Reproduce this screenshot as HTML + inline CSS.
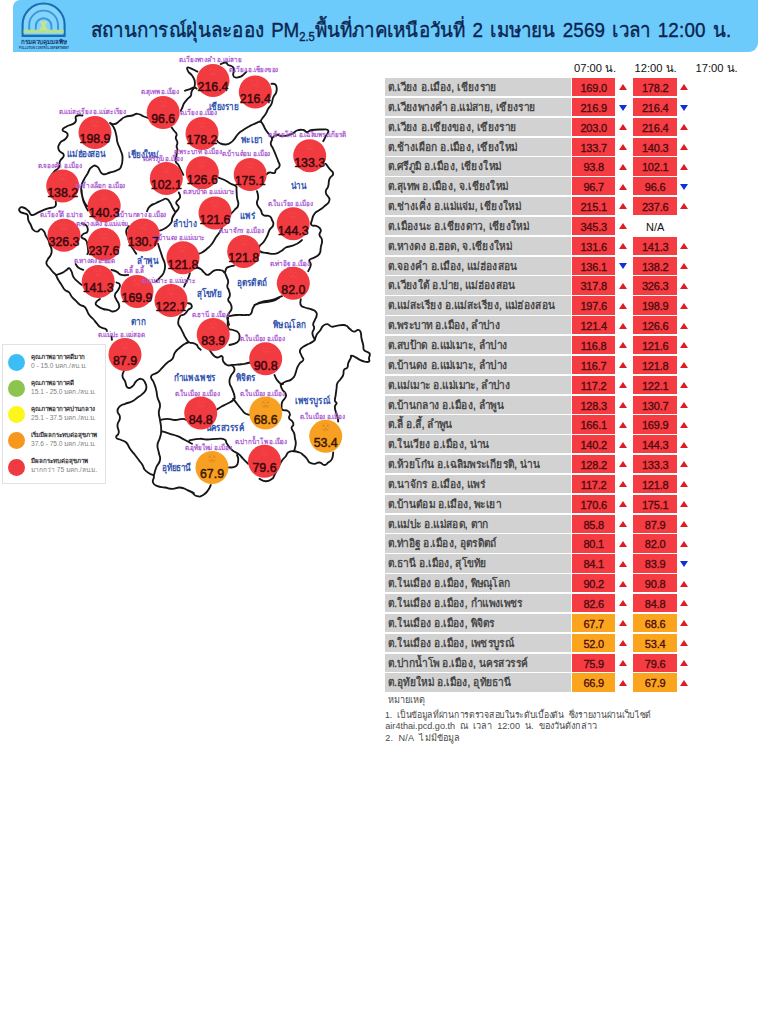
<!DOCTYPE html>
<html lang="th"><head><meta charset="utf-8"><title>PM2.5</title>
<style>
html,body{margin:0;padding:0;background:#fff}
body{width:769px;height:1024px;position:relative;overflow:hidden;font-family:"Liberation Sans",sans-serif;color:#111}
#hdr{position:absolute;left:12.5px;top:0;width:745.5px;height:52.4px;background:#6ccbfa;border-radius:7px 0 9px 0}
#title{position:absolute;left:90.8px;top:16.1px;font-size:20px;line-height:28px;word-spacing:2px;transform:scaleX(.9417);transform-origin:0 50%;color:#0b2350;white-space:nowrap;-webkit-text-stroke:.35px #0b2350;letter-spacing:-.08px}
#title .d{letter-spacing:.2px}
#title sub{font-size:12px;vertical-align:baseline;position:relative;top:3.5px}
#logo{position:absolute;left:18px;top:1.2px}
#map{position:absolute;left:0;top:0}
.sl{font-size:7.2px;fill:#ab5cd2;font-weight:bold}
.sv{font-size:12.4px;fill:#3a060c;stroke:#3a060c;stroke-width:.45px}
.so{fill:#3a1800;stroke:#3a1800}
.pv{font-size:9.8px;fill:#3355b0;font-weight:bold}
#legend{position:absolute;left:2.4px;top:344.3px;width:103.3px;height:140.1px;border:1px solid #e2e2e2;background:#fff;box-sizing:border-box}
.lg{position:absolute;left:4.9px;width:16.9px;height:16.9px;margin-top:.3px;border-radius:50%}
.lt{position:absolute;left:27.6px;font-size:6.6px;line-height:8px;white-space:nowrap;color:#808080;margin-top:-1.9px}
.lt b{color:#333;display:block;font-size:6.15px;line-height:8.9px}
.hd{position:absolute;top:58.7px;font-size:11.2px;white-space:nowrap;color:#111}
.row{position:absolute;left:384.5px;width:320px;height:18.2px}
.nm{position:absolute;left:0;top:0;width:186.2px;height:18.2px;background:#d2d2d2;font-size:11.3px;line-height:19.6px;padding-left:3px;box-sizing:border-box;white-space:nowrap;color:#3a3a3a;-webkit-text-stroke:.3px #3a3a3a}
.nm span{display:inline-block;transform:scaleX(.90);transform-origin:0 50%}
.v{position:absolute;top:0;width:43.6px;height:18.2px;font-size:11px;line-height:21px;text-align:center;color:#4a0a0e;letter-spacing:-.2px;-webkit-text-stroke:.3px #4a0a0e}
.v1{left:187.4px}.v2{left:248.5px;width:44.3px}
.r{background:#f43c42}.o{background:#fba51f}.n{background:transparent;color:#111;-webkit-text-stroke:0;letter-spacing:0}
.t{position:absolute;top:6.4px;width:0;height:0;border-left:4.9px solid transparent;border-right:4.9px solid transparent}
.t.u{border-bottom:6.9px solid #e01b22}
.t.d{border-top:6.9px solid #1030d8;top:6.7px}
.a1{left:234.2px}.a2{left:295.1px}
#notes{position:absolute;left:385.3px;top:694.2px;font-size:9.1px;line-height:13.4px;color:#4a4a4a;white-space:nowrap}
#notes div{position:absolute;left:0;transform-origin:0 50%}
</style></head><body>
<div id="hdr"></div>
<svg id="logo" width="64" height="52" viewBox="0 0 64 52">
<path d="M4.6,35 V23.5 A21,21 0 0 1 46.600,23.500 V35 Z" fill="#84d4fb" stroke="#1b6db3" stroke-width="2.100"/>
<path d="M11.2,29.5 V24 A14.4,14.4 0 0 1 40,24 V29.500" fill="none" stroke="#3a97dc" stroke-width="1.900"/>
<path d="M17.8,29.5 V25 A7.8,7.8 0 0 1 33.400,25 V29.500" fill="none" stroke="#3a97dc" stroke-width="1.900"/>
<rect x="5.6" y="28.7" width="40" height="3.300" fill="#b7e08c"/>
<path d="M21.6,20.3 h8 l-2.400,4 l2.600,4.600 h-8.400 l2.600,-4.600 z" fill="#c4e48f"/>
<rect x="4.6" y="33.6" width="42" height="1.700" fill="#1b6db3"/>
<text x="26" y="43.300" font-size="6.100" font-weight="bold" fill="#16386e" text-anchor="middle">กรมควบคุมมลพิษ</text>
<text x="26" y="47.700" font-size="2.750" font-weight="bold" fill="#16386e" text-anchor="middle">POLLUTION CONTROL DEPARTMENT</text>
</svg>
<div id="title">สถานการณ์ฝุ่นละออง PM<sub>2.5</sub>พื้นที่ภาคเหนือวันที่ <span class="d">2</span> เมษายน <span class="d">2569</span> เวลา <span class="d">12:00</span> น.</div>
<svg id="map" width="385" height="560" viewBox="0 0 385 560" style="font-family:'Liberation Sans',sans-serif">
<path d="M82.5,115.5 C80.8,115.7 78.3,114.3 76.2,116.2 C74.2,118.2 77.6,119.7 75.0,122.5 C72.4,125.3 70.5,124.2 67.0,126.2 C63.5,128.3 62.4,127.9 62.5,130.0 C62.6,132.1 66.7,131.3 67.5,133.8 C68.3,136.2 67.6,136.2 65.5,138.8 C63.4,141.3 61.9,139.8 60.0,143.0 C58.1,146.2 57.7,146.6 58.8,150.0 C59.8,153.4 63.4,151.8 63.8,155.0 C64.1,158.2 61.4,157.8 60.0,161.2 C58.6,164.8 60.5,164.5 58.8,167.5 C57.0,170.5 56.2,169.2 53.8,172.0 C51.3,174.8 51.0,176.0 50.0,177.5 M110.0,123.0 C111.4,123.3 112.2,124.7 115.0,124.0 C117.8,123.3 117.2,122.5 120.0,120.5 C122.8,118.5 121.5,118.4 125.0,117.0 C128.5,115.6 129.0,116.4 132.5,115.5 C136.0,114.6 134.3,113.5 137.5,113.8 C140.7,114.0 140.6,115.3 143.8,116.5 C146.9,117.7 147.3,117.6 148.8,118.0 M110.0,123.0 C111.0,124.3 112.0,124.1 113.8,127.5 C115.5,130.9 115.2,130.8 116.2,135.0 C117.3,139.2 116.3,138.3 117.5,142.5 C118.7,146.7 119.1,145.8 120.5,150.0 C121.9,154.2 122.3,152.9 122.5,157.5 C122.7,162.1 122.7,162.8 121.2,166.2 C119.8,169.8 120.7,168.2 117.5,170.0 C114.3,171.8 114.2,171.4 110.0,172.5 C105.8,173.6 106.1,175.4 102.5,173.8 C98.9,172.1 100.2,168.2 97.0,166.5 C93.8,164.8 93.9,165.5 91.2,167.5 C88.6,169.5 89.6,170.2 87.5,173.8 C85.4,177.2 85.5,176.2 83.8,180.0 C82.0,183.8 81.6,182.6 81.2,187.5 C80.9,192.4 81.5,192.6 82.5,197.5 C83.5,202.4 83.5,201.4 85.0,205.0 C86.5,208.6 87.2,209.0 88.0,210.5 M171.6,127.4 C172.3,128.3 172.7,128.9 174.1,130.7 C175.5,132.6 176.1,132.0 176.6,134.1 C177.1,136.2 175.5,135.9 175.8,138.2 C176.0,140.5 177.2,140.0 177.4,142.4 C177.7,144.7 176.6,144.4 176.6,146.5 C176.6,148.6 177.5,147.1 177.4,149.9 C177.3,152.7 176.7,153.3 176.3,156.5 C175.8,159.8 175.2,159.2 175.8,161.5 C176.3,163.8 176.9,162.5 178.3,164.8 C179.7,167.2 179.4,167.0 180.8,169.8 C182.2,172.6 182.6,173.4 183.3,174.8 M178.8,192.5 C179.1,193.9 180.7,194.7 180.0,197.5 C179.3,200.3 176.6,199.7 176.2,202.5 C175.9,205.3 179.0,204.7 178.8,207.5 C178.5,210.3 177.2,209.7 175.5,212.5 C173.8,215.3 173.8,214.6 172.5,217.5 C171.2,220.4 173.0,220.1 171.0,223.0 C169.0,225.9 168.6,225.9 165.5,228.0 C162.4,230.1 161.5,229.8 160.0,230.5 M147.0,211.2 C147.8,209.8 147.4,208.6 150.0,206.2 C152.6,203.9 152.8,204.8 156.2,203.0 C159.8,201.2 159.6,201.2 162.5,200.0 C165.4,198.8 164.4,198.1 166.5,198.8 C168.6,199.4 168.3,200.1 170.0,202.5 C171.7,204.9 171.0,204.7 172.5,207.5 C174.0,210.3 174.7,211.1 175.5,212.5 M158.0,243.8 C158.6,245.5 158.7,246.2 160.0,250.0 C161.3,253.8 161.1,253.3 162.5,257.5 C163.9,261.7 164.7,260.8 165.0,265.0 C165.3,269.2 165.2,269.0 163.8,272.5 C162.3,276.0 162.1,275.1 160.0,277.5 C157.9,279.9 157.3,280.2 156.2,281.2 M128.8,226.2 C128.1,227.7 126.5,228.1 126.2,231.2 C126.0,234.4 127.0,234.0 128.0,237.5 C129.1,241.0 128.4,240.2 130.0,243.8 C131.6,247.2 132.0,247.2 133.8,250.0 C135.5,252.8 135.6,252.7 136.2,253.8 M55.8,201.7 C55.5,203.0 57.0,204.8 54.9,206.6 C52.8,208.5 52.0,207.1 48.3,208.3 C44.6,209.5 44.9,209.4 41.6,210.8 C38.4,212.2 39.4,212.1 36.6,213.3 C33.8,214.5 34.0,215.7 31.6,215.0 C29.3,214.3 30.6,212.9 28.3,210.8 C26.0,208.7 25.7,208.2 23.3,207.5 C20.9,206.8 20.6,207.1 19.7,208.3 C18.7,209.5 18.7,210.2 20.0,211.6 C21.2,213.0 22.1,212.4 24.1,213.3 C26.2,214.2 26.3,213.1 27.5,215.0 C28.6,216.8 27.4,217.2 28.3,220.0 C29.2,222.8 29.4,222.2 30.8,225.0 C32.2,227.7 31.4,228.1 33.3,229.9 C35.2,231.8 35.4,231.8 37.5,231.6 C39.6,231.4 38.9,229.1 40.8,229.1 C42.7,229.1 42.7,229.7 44.1,231.6 C45.5,233.5 44.6,233.4 45.8,235.8 C47.0,238.1 47.1,237.4 48.3,239.9 C49.4,242.5 49.0,242.1 49.9,244.9 C50.9,247.7 51.4,247.1 51.6,249.9 C51.8,252.7 51.9,252.1 50.8,254.9 C49.6,257.7 48.6,257.3 47.5,259.9 C46.3,262.5 45.9,261.7 46.6,264.1 C47.3,266.4 48.1,265.9 49.9,268.2 C51.8,270.6 51.6,270.5 53.3,272.4 C54.9,274.3 54.4,272.8 55.8,274.9 C57.2,277.0 56.6,277.1 58.3,279.9 C59.9,282.7 59.7,282.1 61.6,284.9 C63.5,287.7 62.8,287.8 64.9,289.9 C67.0,292.0 67.2,290.5 69.1,292.4 C71.0,294.2 69.7,294.2 71.6,296.5 C73.4,298.9 73.4,298.4 75.7,300.7 C78.1,303.0 77.6,303.2 79.9,304.8 C82.2,306.5 82.2,305.1 84.1,306.5 C85.9,307.9 85.2,307.5 86.6,309.8 C88.0,312.2 87.2,312.3 89.1,314.8 C90.9,317.4 91.1,316.7 93.2,319.0 C95.3,321.3 94.5,320.8 96.6,323.2 C98.6,325.5 98.1,325.7 100.7,327.3 C103.3,328.9 104.0,327.9 105.7,329.0 C107.4,330.1 106.5,330.5 106.9,331.1 M55.8,274.9 C57.4,274.4 58.6,274.6 61.6,273.2 C64.6,271.8 64.5,271.3 66.6,269.9 C68.7,268.5 67.7,267.8 69.1,268.2 C70.5,268.7 70.4,269.2 71.6,271.6 C72.7,273.9 71.9,274.0 73.2,276.6 C74.6,279.1 74.2,278.4 76.6,280.7 C78.9,283.0 80.2,283.7 81.6,284.9 M99.9,299.0 C98.7,300.2 96.2,301.1 95.7,303.2 C95.3,305.3 96.1,304.9 98.2,306.5 C100.3,308.1 100.4,308.1 103.2,309.0 C106.0,309.9 105.4,309.1 108.2,309.8 C111.0,310.5 110.4,311.7 113.2,311.5 C116.0,311.3 116.6,310.9 118.2,309.0 C119.8,307.1 119.5,307.4 119.0,304.8 C118.6,302.3 117.7,302.6 116.5,299.9 C115.4,297.1 114.4,297.7 114.9,294.9 C115.3,292.1 116.8,292.7 118.2,289.9 C119.6,287.1 120.3,287.0 119.9,284.9 C119.4,282.8 117.5,283.1 116.5,282.4 M111.5,269.9 C112.9,270.4 113.7,270.2 116.5,271.6 C119.3,273.0 118.3,274.0 121.5,274.9 C124.8,275.8 126.3,274.9 128.2,274.9 M81.6,190.0 C81.8,191.9 81.5,192.9 82.4,196.7 C83.3,200.4 83.3,200.5 84.9,203.3 C86.5,206.1 87.3,205.7 88.2,206.6 M81.6,223.3 C83.0,224.0 84.9,223.5 86.6,225.8 C88.2,228.1 88.3,229.3 87.4,231.6 C86.5,233.9 84.9,232.5 83.2,234.1 C81.6,235.7 80.9,235.8 81.6,237.4 C82.3,239.1 84.1,237.8 85.7,239.9 C87.4,242.0 86.7,241.7 87.4,244.9 C88.1,248.2 88.2,249.0 88.2,251.6 C88.2,254.1 87.6,253.4 87.4,254.1 M75.7,264.1 C76.4,265.0 76.1,265.8 78.2,267.4 C80.3,269.0 81.8,269.2 83.2,269.9 M111.5,336.5 L111.9,339.8 M197.4,71.6 C196.0,70.9 195.2,70.3 192.4,69.1 C189.6,68.0 188.6,66.8 187.4,67.5 C186.3,68.2 187.1,69.5 188.3,71.6 C189.4,73.7 190.0,72.9 191.6,75.0 C193.2,77.1 193.1,76.8 194.1,79.1 C195.0,81.5 194.9,81.0 194.9,83.3 C194.9,85.6 195.0,85.1 194.1,87.5 C193.1,89.8 192.5,89.3 191.6,91.6 C190.7,93.9 191.9,93.7 190.8,95.8 C189.6,97.9 189.3,97.0 187.4,99.1 C185.6,101.2 185.5,100.9 184.1,103.3 C182.7,105.6 183.4,105.3 182.4,107.4 C181.5,109.5 181.2,109.8 180.8,110.8 M196.6,88.6 C195.9,88.3 195.9,87.3 194.1,87.5 C192.2,87.6 192.5,88.2 189.9,89.1 C187.4,90.0 186.3,90.3 184.9,90.8 M220.7,64.1 C222.1,63.7 223.6,62.3 225.7,62.5 C227.8,62.7 226.3,63.8 228.2,65.0 C230.1,66.1 230.7,65.2 232.4,66.6 C234.0,68.0 233.8,67.6 234.0,70.0 C234.3,72.3 232.7,72.9 233.2,75.0 C233.7,77.1 233.6,77.0 235.7,77.5 C237.8,77.9 238.4,77.6 240.7,76.6 C243.0,75.7 242.4,75.5 244.0,74.1 C245.6,72.7 245.8,72.3 246.5,71.6 M271.5,83.8 C272.7,84.1 274.4,82.9 275.8,85.0 C277.1,87.1 277.2,87.8 276.5,91.2 C275.8,94.8 274.6,94.0 273.2,97.5 C271.9,101.0 272.9,100.6 271.5,103.8 C270.1,106.9 269.9,106.0 268.2,108.8 C266.6,111.5 267.5,111.0 265.8,113.8 C264.0,116.5 263.4,116.7 262.0,118.8 C260.6,120.8 261.1,120.5 260.8,121.2 M260.8,121.2 C259.0,122.0 257.6,122.3 254.5,123.8 C251.3,125.2 252.7,124.5 249.5,126.2 C246.3,128.0 246.4,127.9 243.2,130.0 C240.1,132.1 240.7,131.3 238.2,133.8 C235.8,136.2 236.6,136.3 234.5,138.8 C232.4,141.2 233.2,140.9 230.8,142.5 C228.3,144.1 228.9,144.4 225.8,144.5 C222.6,144.6 221.9,144.1 219.5,143.0 C217.1,141.9 217.7,141.2 217.0,140.5 M260.8,121.2 C261.4,122.3 261.9,122.5 263.2,125.0 C264.6,127.5 264.0,127.2 265.8,130.0 C267.5,132.8 267.8,132.6 269.5,135.0 C271.2,137.4 271.6,136.3 272.0,138.8 C272.4,141.2 270.4,140.9 270.8,143.8 C271.1,146.6 271.9,145.6 273.2,148.8 C274.6,151.9 274.4,151.5 275.8,155.0 C277.1,158.5 277.2,158.1 278.2,161.2 C279.3,164.4 280.2,163.8 279.5,166.2 C278.8,168.7 277.1,168.1 275.8,170.0 C274.4,171.9 276.2,172.3 274.5,173.0 C272.8,173.7 271.7,172.1 269.5,172.5 C267.3,172.9 267.3,173.9 266.5,174.5 M272.0,138.0 C273.4,137.2 273.9,135.5 277.0,135.0 C280.1,134.5 279.1,136.6 283.2,136.2 C287.4,135.9 288.1,135.4 292.0,133.8 C295.9,132.1 293.9,131.6 297.0,130.5 C300.1,129.4 300.4,129.6 303.2,130.0 C306.1,130.4 304.6,132.0 307.0,132.0 C309.4,132.0 307.8,130.7 312.0,130.0 C316.2,129.3 317.4,129.4 322.0,129.5 C326.6,129.6 327.2,128.6 328.2,130.5 C329.3,132.4 327.1,133.2 325.8,136.2 C324.4,139.3 323.9,139.8 323.2,141.2 M325.8,163.8 C326.8,165.2 327.4,165.9 329.5,168.8 C331.6,171.6 333.2,170.9 333.2,173.8 C333.2,176.6 330.9,175.2 329.5,178.8 C328.1,182.2 329.3,182.4 328.2,186.2 C327.2,190.1 325.4,188.7 325.8,192.5 C326.1,196.3 329.9,196.2 329.5,200.0 C329.1,203.8 327.3,203.4 324.5,206.2 C321.7,209.1 322.3,207.9 319.5,210.0 C316.7,212.1 316.6,210.9 314.5,213.8 C312.4,216.6 312.8,216.8 312.0,220.0 C311.2,223.2 310.1,223.2 311.5,225.0 C312.9,226.8 314.4,224.8 317.0,226.2 C319.6,227.7 320.1,227.6 320.8,230.0 C321.4,232.4 319.1,232.2 319.5,235.0 C319.9,237.8 321.6,236.5 322.0,240.0 C322.4,243.5 321.4,243.7 320.8,247.5 C320.1,251.3 321.2,250.9 319.5,253.8 C317.8,256.6 317.3,255.8 314.5,257.5 C311.7,259.2 310.6,257.9 309.5,260.0 C308.4,262.1 311.1,261.9 310.8,265.0 C310.4,268.1 308.9,269.5 308.2,271.2 M257.0,191.2 C257.4,193.0 258.2,194.0 258.2,197.5 C258.2,201.0 256.3,200.2 257.0,203.8 C257.7,207.2 259.0,206.8 260.8,210.0 C262.5,213.2 260.8,213.2 263.2,215.0 C265.7,216.8 267.1,214.8 269.5,216.2 C271.9,217.7 270.9,217.6 272.0,220.0 C273.1,222.4 273.9,222.2 273.2,225.0 C272.6,227.8 271.2,226.8 269.5,230.0 C267.8,233.2 268.8,232.8 267.0,236.2 C265.2,239.8 265.4,239.7 263.2,242.5 C261.1,245.3 260.4,243.8 259.5,246.2 C258.6,248.7 257.9,249.4 260.0,251.2 C262.1,253.1 262.9,252.3 267.0,253.0 C271.1,253.7 270.6,254.2 274.5,253.8 C278.4,253.3 277.6,253.0 280.8,251.2 C283.9,249.5 282.9,248.9 285.8,247.5 C288.6,246.1 287.6,247.3 290.8,246.2 C293.9,245.2 293.9,245.5 297.0,243.8 C300.1,242.0 300.6,241.1 302.0,240.0 M218.2,177.5 C220.0,178.2 221.0,178.2 224.5,180.0 C228.0,181.8 227.6,182.0 230.8,183.8 C233.9,185.5 234.1,184.5 235.8,186.2 C237.4,188.0 236.2,186.8 236.5,190.0 C236.8,193.2 236.5,193.3 237.0,197.5 C237.5,201.7 238.9,201.5 238.2,205.0 C237.6,208.5 236.6,207.6 234.5,210.0 C232.4,212.4 231.8,212.7 230.8,213.8 M222.0,227.5 C221.3,228.9 221.2,229.7 219.5,232.5 C217.8,235.3 217.8,234.3 215.8,237.5 C213.7,240.7 214.4,240.6 212.0,243.8 C209.6,246.9 209.8,246.3 207.0,248.8 C204.2,251.2 204.4,251.1 202.0,252.5 C199.6,253.9 199.3,253.4 198.2,253.8 M254.5,305.0 C256.6,304.3 257.1,303.6 262.0,302.5 C266.9,301.4 267.1,302.6 272.0,301.2 C276.9,299.9 277.4,298.6 279.5,297.5 M196.6,267.4 C197.7,267.9 198.6,267.7 200.7,269.1 C202.8,270.5 202.2,270.8 204.0,272.4 C205.9,274.0 205.5,274.7 207.4,274.9 C209.2,275.1 208.8,274.4 210.7,273.2 C212.6,272.1 211.9,271.7 214.0,270.7 C216.1,269.8 215.9,269.9 218.2,269.9 C220.5,269.9 220.5,270.0 222.4,270.7 C224.2,271.4 223.7,273.1 224.8,272.4 C226.0,271.7 225.1,269.9 226.5,268.2 C227.9,266.6 227.7,267.3 229.8,266.6 C231.9,265.9 232.8,266.0 234.0,265.7 M224.8,272.4 C225.3,273.6 225.6,274.0 226.5,276.6 C227.4,279.1 227.9,278.8 228.2,281.6 C228.4,284.4 227.1,284.0 227.3,286.6 C227.6,289.1 228.3,288.1 229.0,290.7 C229.7,293.3 230.1,293.1 229.8,295.7 C229.6,298.3 227.9,297.5 228.2,299.9 C228.4,302.2 229.7,301.5 230.7,304.0 C231.6,306.6 232.0,306.5 231.5,309.0 C231.0,311.6 230.2,310.9 229.0,313.2 C227.8,315.5 227.6,315.0 227.3,317.3 C227.1,319.7 227.7,319.4 228.2,321.5 C228.6,323.6 228.8,323.9 229.0,324.8 M189.9,273.2 C189.4,274.6 189.4,275.4 188.2,278.2 C187.1,281.0 186.9,280.9 185.7,283.2 C184.6,285.6 184.5,285.6 184.1,286.6 M187.4,303.2 C188.3,303.4 189.6,302.9 190.7,304.0 C191.9,305.2 192.3,305.7 191.6,307.4 C190.9,309.0 189.9,308.2 188.2,309.9 C186.6,311.5 187.1,311.8 185.7,313.2 C184.3,314.6 184.9,313.9 183.2,314.8 C181.6,315.8 181.3,314.2 179.9,316.5 C178.5,318.8 178.0,319.9 178.2,323.2 C178.5,326.4 179.3,325.4 180.7,328.2 C182.1,331.0 181.8,330.4 183.2,333.2 C184.6,336.0 184.1,335.6 185.7,338.1 C187.4,340.7 187.0,340.9 189.1,342.3 C191.2,343.7 191.1,342.4 193.2,343.1 C195.3,343.8 195.2,343.6 196.6,344.8 C197.9,346.0 197.1,345.9 198.2,347.3 C199.4,348.7 200.0,349.1 200.7,349.8 M123.8,371.2 C123.4,372.6 122.2,373.4 122.5,376.2 C122.8,379.1 123.6,378.1 125.0,381.2 C126.4,384.4 125.4,386.1 127.5,387.5 C129.6,388.9 130.1,388.0 132.5,386.2 C134.9,384.5 133.8,383.4 136.2,381.2 C138.7,379.1 138.8,378.4 141.2,378.8 C143.7,379.1 143.6,379.7 145.0,382.5 C146.4,385.3 146.9,385.6 146.2,388.8 C145.6,391.9 144.9,391.3 142.5,393.8 C140.1,396.2 140.3,395.4 137.5,397.5 C134.7,399.6 136.0,399.5 132.5,401.2 C129.0,403.0 128.5,402.4 125.0,403.8 C121.5,405.1 122.1,404.1 120.0,406.2 C117.9,408.4 117.5,408.1 117.5,411.2 C117.5,414.4 120.0,413.6 120.0,417.5 C120.0,421.4 117.8,420.8 117.5,425.0 C117.2,429.2 119.1,429.0 118.8,432.5 C118.4,436.0 115.5,435.4 116.2,437.5 C117.0,439.6 118.5,438.6 121.2,440.0 C124.0,441.4 123.8,440.1 126.2,442.5 C128.7,444.9 127.5,445.2 130.0,448.8 C132.4,452.2 132.6,451.9 135.0,455.0 C137.4,458.1 136.7,457.2 138.8,460.0 C140.8,462.8 140.8,462.2 142.5,465.0 C144.2,467.8 142.9,467.6 145.0,470.0 C147.1,472.4 147.6,472.0 150.0,473.8 C152.4,475.5 152.9,473.8 153.8,476.2 C154.6,478.7 151.9,479.7 153.0,482.5 C154.1,485.3 154.1,484.9 157.5,486.2 C160.9,487.6 160.8,486.8 165.0,487.5 C169.2,488.2 168.3,488.8 172.5,488.8 C176.7,488.8 175.8,487.1 180.0,487.5 C184.2,487.9 183.7,488.5 187.5,490.0 C191.3,491.5 192.0,492.2 193.8,493.0 M189.0,342.2 C187.9,342.7 187.5,342.3 185.0,343.8 C182.5,345.2 182.8,345.1 180.0,347.5 C177.2,349.9 177.1,349.4 175.0,352.5 C172.9,355.6 174.6,355.9 172.5,358.8 C170.4,361.6 170.3,360.1 167.5,362.5 C164.7,364.9 165.3,364.7 162.5,367.5 C159.7,370.3 160.7,370.1 157.5,372.5 C154.3,374.9 152.3,373.4 151.2,376.2 C150.2,379.1 152.3,378.6 153.8,382.5 C155.2,386.4 155.2,385.8 156.2,390.0 C157.3,394.2 156.4,393.3 157.5,397.5 C158.6,401.7 159.7,400.8 160.0,405.0 C160.3,409.2 158.8,408.3 158.8,412.5 C158.8,416.7 159.3,415.1 160.0,420.0 C160.7,424.9 161.2,425.1 161.2,430.0 C161.2,434.9 161.1,433.3 160.0,437.5 C158.9,441.7 157.8,440.8 157.5,445.0 C157.2,449.2 158.1,448.3 158.8,452.5 C159.4,456.7 160.7,455.8 160.0,460.0 C159.3,464.2 158.0,462.9 156.2,467.5 C154.5,472.1 154.4,473.8 153.8,476.2 M160.0,420.0 C162.1,419.6 163.3,418.8 167.5,418.8 C171.7,418.8 170.8,420.0 175.0,420.0 C179.2,420.0 179.3,418.8 182.5,418.8 C185.7,418.8 185.2,419.6 186.2,420.0 M161.2,431.2 C163.7,431.9 165.4,432.4 170.0,433.8 C174.6,435.1 173.3,434.5 177.5,436.2 C181.7,438.0 180.9,437.9 185.0,440.0 C189.1,442.1 190.0,442.7 192.0,443.8 M300.8,299.2 C300.8,300.8 299.6,302.6 300.8,305.0 C301.9,307.3 302.1,306.3 304.9,307.5 C307.7,308.6 307.7,308.0 310.8,309.1 C313.8,310.3 314.1,309.8 315.7,311.6 C317.4,313.5 316.8,313.5 316.6,315.8 C316.3,318.1 315.8,317.6 314.9,320.0 C314.0,322.3 313.5,321.8 313.2,324.1 C313.0,326.5 314.3,325.7 314.1,328.3 C313.8,330.8 312.4,330.5 312.4,333.3 C312.4,336.1 313.4,336.4 314.1,338.3 C314.8,340.1 314.7,339.5 314.9,339.9 M314.9,339.9 C315.4,338.5 315.2,337.5 316.6,334.9 C318.0,332.4 318.0,333.3 319.9,330.8 C321.8,328.2 321.1,327.6 323.2,325.8 C325.3,323.9 325.1,323.9 327.4,324.1 C329.7,324.4 329.0,326.2 331.6,326.6 C334.1,327.1 333.5,326.3 336.6,325.8 C339.6,325.3 339.6,325.0 342.4,325.0 C345.2,325.0 344.4,324.6 346.5,325.8 C348.6,327.0 347.8,327.5 349.9,329.1 C352.0,330.7 351.7,331.4 354.0,331.6 C356.4,331.8 356.3,329.7 358.2,329.9 C360.1,330.2 359.8,330.1 360.7,332.4 C361.6,334.8 360.8,334.8 361.5,338.3 C362.2,341.8 362.5,341.7 363.2,344.9 C363.9,348.2 362.6,347.8 364.0,349.9 C365.4,352.0 366.5,351.3 368.2,352.4 C369.8,353.6 369.6,352.5 369.8,354.1 C370.1,355.7 369.2,356.1 369.0,358.2 C368.8,360.3 370.2,360.6 369.0,361.6 C367.8,362.5 367.4,362.0 364.8,361.6 C362.3,361.1 362.4,361.1 359.9,359.9 C357.3,358.7 358.0,358.6 355.7,357.4 C353.4,356.2 352.9,355.5 351.5,355.7 C350.1,356.0 351.6,356.1 350.7,358.2 C349.8,360.3 349.1,360.7 348.2,363.2 C347.3,365.8 348.5,365.5 347.4,367.4 C346.2,369.3 345.2,367.8 344.0,369.9 C342.9,372.0 344.1,372.3 343.2,374.9 C342.3,377.5 342.3,376.7 340.7,379.0 C339.1,381.4 338.5,380.6 337.4,383.2 C336.2,385.8 337.0,384.9 336.6,388.2 C336.1,391.5 336.2,391.4 335.7,394.9 C335.3,398.4 334.7,398.4 334.9,400.7 C335.1,403.0 336.6,401.6 336.6,403.2 C336.6,404.8 335.1,404.2 334.9,406.5 C334.7,408.8 335.0,408.7 335.7,411.5 C336.4,414.3 336.7,413.7 337.4,416.5 C338.1,419.3 338.0,420.1 338.2,421.5 M314.9,339.9 C314.0,340.6 313.9,341.0 311.6,342.4 C309.3,343.8 309.2,343.5 306.6,344.9 C304.0,346.3 304.3,345.8 302.4,347.4 C300.6,349.1 300.2,348.4 299.9,350.8 C299.7,353.1 300.7,353.2 301.6,355.7 C302.5,358.3 303.7,357.8 303.3,359.9 C302.8,362.0 301.6,361.1 299.9,363.2 C298.3,365.3 298.6,364.8 297.4,367.4 C296.3,370.0 296.7,369.8 295.8,372.4 C294.8,375.0 295.5,374.5 294.1,376.6 C292.7,378.6 293.1,378.5 290.8,379.9 C288.4,381.3 288.3,380.4 285.8,381.5 C283.2,382.7 283.0,382.9 281.6,384.0 C280.2,385.2 280.6,384.1 280.8,385.7 C281.0,387.3 281.1,387.5 282.5,389.9 C283.9,392.2 285.1,391.7 285.8,394.0 C286.5,396.4 285.9,396.1 285.0,398.2 C284.0,400.3 283.4,399.4 282.5,401.5 C281.5,403.6 281.6,403.3 281.6,405.7 C281.6,408.0 280.8,408.4 282.5,409.8 C284.1,411.2 285.4,409.5 287.5,410.7 C289.5,411.8 289.5,411.9 289.9,414.0 C290.4,416.1 288.4,416.1 289.1,418.2 C289.8,420.3 291.3,419.6 292.4,421.5 C293.6,423.4 293.5,423.0 293.3,424.8 C293.0,426.7 291.4,425.8 291.6,428.1 C291.8,430.5 293.2,430.3 294.1,433.1 C295.0,435.9 294.5,435.3 294.9,438.1 C295.4,440.9 295.8,440.3 295.8,443.1 C295.8,445.9 295.4,445.8 294.9,448.1 C294.5,450.5 294.3,450.5 294.1,451.5 M228.2,316.2 C230.7,315.9 232.1,315.4 237.0,315.0 C241.9,314.6 241.9,315.4 245.8,315.0 C249.6,314.6 248.7,315.9 250.8,313.8 C252.8,311.6 251.5,310.3 253.2,307.5 C255.0,304.7 253.8,305.5 257.0,303.8 C260.1,302.0 260.3,302.3 264.5,301.2 C268.7,300.2 268.1,301.1 272.0,300.0 C275.9,298.9 275.4,298.6 278.2,297.5 C281.1,296.4 280.9,296.6 282.0,296.2 M333.2,452.5 C332.9,454.2 333.4,455.9 332.0,458.8 C330.6,461.6 330.4,460.8 328.2,462.5 C326.1,464.2 326.9,465.0 324.5,465.0 C322.1,465.0 322.3,462.9 319.5,462.5 C316.7,462.1 317.3,463.8 314.5,463.8 C311.7,463.8 311.6,463.9 309.5,462.5 C307.4,461.1 308.8,460.9 307.0,458.8 C305.2,456.6 305.4,456.8 303.2,455.0 C301.1,453.2 302.3,453.6 299.5,452.5 C296.7,451.4 296.4,451.2 293.2,451.2 C290.1,451.2 290.4,451.1 288.2,452.5 C286.1,453.9 287.9,453.4 285.8,456.2 C283.6,459.1 283.9,457.2 280.8,462.5 C277.6,467.8 276.9,470.4 274.5,475.0 C272.1,479.6 274.4,477.0 272.0,478.8 C269.6,480.5 269.2,481.2 265.8,481.2 C262.2,481.2 261.2,479.4 259.5,478.8 M274.5,375.0 C275.2,376.4 275.2,377.6 277.0,380.0 C278.8,382.4 279.0,382.7 280.8,383.8 C282.5,384.8 282.6,383.8 283.2,383.8 M228.2,316.2 C228.2,319.4 226.8,323.6 228.2,327.5 C229.7,331.4 230.4,328.6 233.2,330.0 C236.1,331.4 236.5,330.4 238.2,332.5 C240.0,334.6 239.8,334.7 239.5,337.5 C239.2,340.3 239.8,340.4 237.0,342.5 C234.2,344.6 231.6,344.3 229.5,345.0 M209.5,350.0 C210.6,351.4 211.2,352.9 213.2,355.0 C215.3,357.1 214.6,357.1 217.0,357.5 C219.4,357.9 220.2,355.2 222.0,356.2 C223.8,357.3 221.8,358.8 223.2,361.2 C224.7,363.7 224.6,363.9 227.0,365.0 C229.4,366.1 228.8,365.1 232.0,365.0 C235.2,364.9 234.8,364.9 238.2,364.5 C241.8,364.1 241.2,364.3 244.5,363.8 C247.8,363.2 248.5,362.9 250.0,362.5 M232.0,365.0 C232.7,366.4 234.8,366.9 234.5,370.0 C234.2,373.1 232.2,372.8 230.8,376.2 C229.3,379.8 229.2,379.0 229.5,382.5 C229.8,386.0 230.6,384.9 232.0,388.8 C233.4,392.6 234.2,393.1 234.5,396.2 C234.8,399.4 235.3,397.9 233.2,400.0 C231.2,402.1 230.2,402.0 227.0,403.8 C223.8,405.5 224.8,404.6 222.0,406.2 C219.2,407.9 218.4,408.6 217.0,409.5 M233.2,398.8 C234.3,400.1 234.6,400.6 237.0,403.8 C239.4,406.9 239.6,407.2 242.0,410.0 C244.4,412.8 243.3,412.4 245.8,413.8 C248.2,415.1 249.3,414.6 250.8,415.0 M189.5,440.5 C192.3,440.0 194.6,439.0 199.5,438.8 C204.4,438.5 202.1,439.5 207.0,439.5 C211.9,439.5 212.1,438.8 217.0,438.8 C221.9,438.8 221.7,438.1 224.5,439.5 C227.3,440.9 224.9,440.8 227.0,443.8 C229.1,446.7 228.8,447.2 232.0,450.0 C235.2,452.8 235.1,451.3 238.2,453.8 C241.4,456.2 240.4,455.9 243.2,458.8 C246.1,461.6 246.8,462.4 248.2,463.8 M228.2,467.5 C230.3,467.1 232.9,468.4 235.8,466.2 C238.6,464.1 237.9,463.1 238.2,460.0 C238.6,456.9 237.3,456.4 237.0,455.0 M187.0,490.0 C188.4,490.7 189.2,490.8 192.0,492.5 C194.8,494.2 193.8,495.6 197.0,496.2 C200.2,496.9 200.1,496.8 203.2,495.0 C206.4,493.2 206.2,492.8 208.2,490.0 C210.3,487.2 210.1,486.4 210.8,485.0" fill="none" stroke="#161616" stroke-width="1.85" stroke-linejoin="round" stroke-linecap="round"/>
<text class="pv" transform="translate(208.5,110) scale(.83,1)">เชียงราย</text>
<text class="pv" transform="translate(241,142.5) scale(.83,1)">พะเยา</text>
<text class="pv" transform="translate(67,157) scale(.83,1)">แม่ฮ่องสอน</text>
<text class="pv" transform="translate(128,158) scale(.83,1)">เชียงใหม่</text>
<text class="pv" transform="translate(291,189) scale(.83,1)">น่าน</text>
<text class="pv" transform="translate(173,226.5) scale(.83,1)">ลำปาง</text>
<text class="pv" transform="translate(240,219) scale(.83,1)">แพร่</text>
<text class="pv" transform="translate(137.3,264) scale(.83,1)">ลำพูน</text>
<text class="pv" transform="translate(237,285.5) scale(.83,1)">อุตรดิตถ์</text>
<text class="pv" transform="translate(197,297) scale(.83,1)">สุโขทัย</text>
<text class="pv" transform="translate(131,325) scale(.83,1)">ตาก</text>
<text class="pv" transform="translate(273,328) scale(.83,1)">พิษณุโลก</text>
<text class="pv" transform="translate(174,381) scale(.83,1)">กำแพงเพชร</text>
<text class="pv" transform="translate(236,381) scale(.83,1)">พิจิตร</text>
<text class="pv" transform="translate(295,404) scale(.83,1)">เพชรบูรณ์</text>
<text class="pv" transform="translate(205.5,431) scale(.83,1)">นครสวรรค์</text>
<text class="pv" transform="translate(162,471) scale(.83,1)">อุทัยธานี</text>
<circle cx="213" cy="80.5" r="16.5" fill="#f23b40"/>
<g transform="translate(213,71.5)" fill="none" stroke="#f86a6e" stroke-width=".7" opacity=".5"><path d="M-2.1,2.5 Q0,0.400 2.1,2.500"/><path d="M-2.7,-2 L-0.9,-0.900 M2.7,-2 L0.9,-0.900"/><circle r="3.9" stroke-width=".4" opacity=".45"/></g>
<circle cx="255.3" cy="92" r="16.5" fill="#f23b40"/>
<g transform="translate(255.3,83)" fill="none" stroke="#f86a6e" stroke-width=".7" opacity=".5"><path d="M-2.1,2.5 Q0,0.400 2.1,2.500"/><path d="M-2.7,-2 L-0.9,-0.900 M2.7,-2 L0.9,-0.900"/><circle r="3.9" stroke-width=".4" opacity=".45"/></g>
<circle cx="163.2" cy="112.5" r="16.5" fill="#f23b40"/>
<g transform="translate(163.2,103.5)" fill="none" stroke="#f86a6e" stroke-width=".7" opacity=".5"><path d="M-2.1,2.5 Q0,0.400 2.1,2.500"/><path d="M-2.7,-2 L-0.9,-0.900 M2.7,-2 L0.9,-0.900"/><circle r="3.9" stroke-width=".4" opacity=".45"/></g>
<circle cx="202" cy="133.5" r="16.5" fill="#f23b40"/>
<g transform="translate(202,124.5)" fill="none" stroke="#f86a6e" stroke-width=".7" opacity=".5"><path d="M-2.1,2.5 Q0,0.400 2.1,2.500"/><path d="M-2.7,-2 L-0.9,-0.900 M2.7,-2 L0.9,-0.900"/><circle r="3.9" stroke-width=".4" opacity=".45"/></g>
<circle cx="95" cy="132.5" r="16.5" fill="#f23b40"/>
<g transform="translate(95,123.5)" fill="none" stroke="#f86a6e" stroke-width=".7" opacity=".5"><path d="M-2.1,2.5 Q0,0.400 2.1,2.500"/><path d="M-2.7,-2 L-0.9,-0.900 M2.7,-2 L0.9,-0.900"/><circle r="3.9" stroke-width=".4" opacity=".45"/></g>
<circle cx="309.7" cy="155.7" r="16.5" fill="#f23b40"/>
<g transform="translate(309.7,146.7)" fill="none" stroke="#f86a6e" stroke-width=".7" opacity=".5"><path d="M-2.1,2.5 Q0,0.400 2.1,2.500"/><path d="M-2.7,-2 L-0.9,-0.900 M2.7,-2 L0.9,-0.900"/><circle r="3.9" stroke-width=".4" opacity=".45"/></g>
<circle cx="62.7" cy="186" r="16.5" fill="#f23b40"/>
<g transform="translate(62.7,177)" fill="none" stroke="#f86a6e" stroke-width=".7" opacity=".5"><path d="M-2.1,2.5 Q0,0.400 2.1,2.500"/><path d="M-2.7,-2 L-0.9,-0.900 M2.7,-2 L0.9,-0.900"/><circle r="3.9" stroke-width=".4" opacity=".45"/></g>
<circle cx="166.3" cy="178.5" r="16.5" fill="#f23b40"/>
<g transform="translate(166.3,169.5)" fill="none" stroke="#f86a6e" stroke-width=".7" opacity=".5"><path d="M-2.1,2.5 Q0,0.400 2.1,2.500"/><path d="M-2.7,-2 L-0.9,-0.900 M2.7,-2 L0.9,-0.900"/><circle r="3.9" stroke-width=".4" opacity=".45"/></g>
<circle cx="202.3" cy="172.7" r="16.5" fill="#f23b40"/>
<g transform="translate(202.3,163.7)" fill="none" stroke="#f86a6e" stroke-width=".7" opacity=".5"><path d="M-2.1,2.5 Q0,0.400 2.1,2.500"/><path d="M-2.7,-2 L-0.9,-0.900 M2.7,-2 L0.9,-0.900"/><circle r="3.9" stroke-width=".4" opacity=".45"/></g>
<circle cx="250.2" cy="174.5" r="16.5" fill="#f23b40"/>
<g transform="translate(250.2,165.5)" fill="none" stroke="#f86a6e" stroke-width=".7" opacity=".5"><path d="M-2.1,2.5 Q0,0.400 2.1,2.500"/><path d="M-2.7,-2 L-0.9,-0.900 M2.7,-2 L0.9,-0.900"/><circle r="3.9" stroke-width=".4" opacity=".45"/></g>
<circle cx="104.2" cy="205.8" r="16.5" fill="#f23b40"/>
<g transform="translate(104.2,196.8)" fill="none" stroke="#f86a6e" stroke-width=".7" opacity=".5"><path d="M-2.1,2.5 Q0,0.400 2.1,2.500"/><path d="M-2.7,-2 L-0.9,-0.900 M2.7,-2 L0.9,-0.900"/><circle r="3.9" stroke-width=".4" opacity=".45"/></g>
<circle cx="215" cy="213" r="16.5" fill="#f23b40"/>
<g transform="translate(215,204)" fill="none" stroke="#f86a6e" stroke-width=".7" opacity=".5"><path d="M-2.1,2.5 Q0,0.400 2.1,2.500"/><path d="M-2.7,-2 L-0.9,-0.900 M2.7,-2 L0.9,-0.900"/><circle r="3.9" stroke-width=".4" opacity=".45"/></g>
<circle cx="293.2" cy="223.7" r="16.5" fill="#f23b40"/>
<g transform="translate(293.2,214.7)" fill="none" stroke="#f86a6e" stroke-width=".7" opacity=".5"><path d="M-2.1,2.5 Q0,0.400 2.1,2.500"/><path d="M-2.7,-2 L-0.9,-0.900 M2.7,-2 L0.9,-0.900"/><circle r="3.9" stroke-width=".4" opacity=".45"/></g>
<circle cx="64" cy="235.3" r="16.5" fill="#f23b40"/>
<g transform="translate(64,226.3)" fill="none" stroke="#f86a6e" stroke-width=".7" opacity=".5"><path d="M-2.1,2.5 Q0,0.400 2.1,2.500"/><path d="M-2.7,-2 L-0.9,-0.900 M2.7,-2 L0.9,-0.900"/><circle r="3.9" stroke-width=".4" opacity=".45"/></g>
<circle cx="103.9" cy="244.3" r="16.5" fill="#f23b40"/>
<g transform="translate(103.9,235.3)" fill="none" stroke="#f86a6e" stroke-width=".7" opacity=".5"><path d="M-2.1,2.5 Q0,0.400 2.1,2.500"/><path d="M-2.7,-2 L-0.9,-0.900 M2.7,-2 L0.9,-0.900"/><circle r="3.9" stroke-width=".4" opacity=".45"/></g>
<circle cx="143.3" cy="235" r="16.5" fill="#f23b40"/>
<g transform="translate(143.3,226)" fill="none" stroke="#f86a6e" stroke-width=".7" opacity=".5"><path d="M-2.1,2.5 Q0,0.400 2.1,2.500"/><path d="M-2.7,-2 L-0.9,-0.900 M2.7,-2 L0.9,-0.900"/><circle r="3.9" stroke-width=".4" opacity=".45"/></g>
<circle cx="183" cy="257.7" r="16.5" fill="#f23b40"/>
<g transform="translate(183,248.7)" fill="none" stroke="#f86a6e" stroke-width=".7" opacity=".5"><path d="M-2.1,2.5 Q0,0.400 2.1,2.500"/><path d="M-2.7,-2 L-0.9,-0.900 M2.7,-2 L0.9,-0.900"/><circle r="3.9" stroke-width=".4" opacity=".45"/></g>
<circle cx="243.7" cy="251.4" r="16.5" fill="#f23b40"/>
<g transform="translate(243.7,242.4)" fill="none" stroke="#f86a6e" stroke-width=".7" opacity=".5"><path d="M-2.1,2.5 Q0,0.400 2.1,2.500"/><path d="M-2.7,-2 L-0.9,-0.900 M2.7,-2 L0.9,-0.900"/><circle r="3.9" stroke-width=".4" opacity=".45"/></g>
<circle cx="98.2" cy="281.5" r="16.5" fill="#f23b40"/>
<g transform="translate(98.2,272.5)" fill="none" stroke="#f86a6e" stroke-width=".7" opacity=".5"><path d="M-2.1,2.5 Q0,0.400 2.1,2.500"/><path d="M-2.7,-2 L-0.9,-0.900 M2.7,-2 L0.9,-0.900"/><circle r="3.9" stroke-width=".4" opacity=".45"/></g>
<circle cx="137" cy="291.4" r="16.5" fill="#f23b40"/>
<g transform="translate(137,282.4)" fill="none" stroke="#f86a6e" stroke-width=".7" opacity=".5"><path d="M-2.1,2.5 Q0,0.400 2.1,2.500"/><path d="M-2.7,-2 L-0.9,-0.900 M2.7,-2 L0.9,-0.900"/><circle r="3.9" stroke-width=".4" opacity=".45"/></g>
<circle cx="171" cy="300.5" r="16.5" fill="#f23b40"/>
<g transform="translate(171,291.5)" fill="none" stroke="#f86a6e" stroke-width=".7" opacity=".5"><path d="M-2.1,2.5 Q0,0.400 2.1,2.500"/><path d="M-2.7,-2 L-0.9,-0.900 M2.7,-2 L0.9,-0.900"/><circle r="3.9" stroke-width=".4" opacity=".45"/></g>
<circle cx="293.3" cy="283.2" r="16.5" fill="#f23b40"/>
<g transform="translate(293.3,274.2)" fill="none" stroke="#f86a6e" stroke-width=".7" opacity=".5"><path d="M-2.1,2.5 Q0,0.400 2.1,2.500"/><path d="M-2.7,-2 L-0.9,-0.900 M2.7,-2 L0.9,-0.900"/><circle r="3.9" stroke-width=".4" opacity=".45"/></g>
<circle cx="125" cy="354.5" r="16.5" fill="#f23b40"/>
<g transform="translate(125,345.5)" fill="none" stroke="#f86a6e" stroke-width=".7" opacity=".5"><path d="M-2.1,2.5 Q0,0.400 2.1,2.500"/><path d="M-2.7,-2 L-0.9,-0.900 M2.7,-2 L0.9,-0.900"/><circle r="3.9" stroke-width=".4" opacity=".45"/></g>
<circle cx="213.2" cy="334.5" r="16.5" fill="#f23b40"/>
<g transform="translate(213.2,325.5)" fill="none" stroke="#f86a6e" stroke-width=".7" opacity=".5"><path d="M-2.1,2.5 Q0,0.400 2.1,2.500"/><path d="M-2.7,-2 L-0.9,-0.900 M2.7,-2 L0.9,-0.900"/><circle r="3.9" stroke-width=".4" opacity=".45"/></g>
<circle cx="265.7" cy="358.8" r="16.5" fill="#f23b40"/>
<g transform="translate(265.7,349.8)" fill="none" stroke="#f86a6e" stroke-width=".7" opacity=".5"><path d="M-2.1,2.5 Q0,0.400 2.1,2.500"/><path d="M-2.7,-2 L-0.9,-0.900 M2.7,-2 L0.9,-0.900"/><circle r="3.9" stroke-width=".4" opacity=".45"/></g>
<circle cx="200.7" cy="413" r="16.5" fill="#f23b40"/>
<g transform="translate(200.7,404)" fill="none" stroke="#f86a6e" stroke-width=".7" opacity=".5"><path d="M-2.1,2.5 Q0,0.400 2.1,2.500"/><path d="M-2.7,-2 L-0.9,-0.900 M2.7,-2 L0.9,-0.900"/><circle r="3.9" stroke-width=".4" opacity=".45"/></g>
<circle cx="265.7" cy="413" r="16.5" fill="#f8a021"/>
<g transform="translate(265.7,404)" fill="none" stroke="#b4651a" stroke-width=".7" opacity=".85"><path d="M-2.1,2.5 Q0,0.400 2.1,2.500"/><path d="M-2.7,-2 L-0.9,-0.900 M2.7,-2 L0.9,-0.900"/><circle r="3.9" stroke-width=".4" opacity=".45"/></g>
<circle cx="325.7" cy="436.3" r="16.5" fill="#f8a021"/>
<g transform="translate(325.7,427.3)" fill="none" stroke="#b4651a" stroke-width=".7" opacity=".85"><path d="M-2.1,2.5 Q0,0.400 2.1,2.500"/><path d="M-2.7,-2 L-0.9,-0.900 M2.7,-2 L0.9,-0.900"/><circle r="3.9" stroke-width=".4" opacity=".45"/></g>
<circle cx="264.5" cy="461.3" r="16.5" fill="#f23b40"/>
<g transform="translate(264.5,452.3)" fill="none" stroke="#f86a6e" stroke-width=".7" opacity=".5"><path d="M-2.1,2.5 Q0,0.400 2.1,2.500"/><path d="M-2.7,-2 L-0.9,-0.900 M2.7,-2 L0.9,-0.900"/><circle r="3.9" stroke-width=".4" opacity=".45"/></g>
<circle cx="212" cy="467.5" r="16.5" fill="#f8a021"/>
<g transform="translate(212,458.5)" fill="none" stroke="#b4651a" stroke-width=".7" opacity=".85"><path d="M-2.1,2.5 Q0,0.400 2.1,2.500"/><path d="M-2.7,-2 L-0.9,-0.900 M2.7,-2 L0.9,-0.900"/><circle r="3.9" stroke-width=".4" opacity=".45"/></g>
<text class="sl" transform="translate(179,61.7) scale(.88,1)">ต.เวียงพางคำ อ.แม่สาย</text>
<text class="sl" transform="translate(229,71.7) scale(.88,1)">ต.เวียง อ.เชียงของ</text>
<text class="sl" transform="translate(141,93.7) scale(.88,1)">ต.สุเทพ อ.เมือง</text>
<text class="sl" transform="translate(180,114.7) scale(.88,1)">ต.เวียง อ.เมือง</text>
<text class="sl" transform="translate(59,113.7) scale(.88,1)">ต.แม่สะเรียง อ.แม่สะเรียง</text>
<text class="sl" transform="translate(268,136.7) scale(.88,1)">ต.ห้วยโก๋น อ.เฉลิมพระเกียรติ</text>
<text class="sl" transform="translate(38,167.7) scale(.88,1)">ต.จองคำ อ.เมือง</text>
<text class="sl" transform="translate(143,160.7) scale(.88,1)">ต.ศรีภูมิ อ.เมือง</text>
<text class="sl" transform="translate(174,153.7) scale(.88,1)">ต.พระบาท อ.เมือง</text>
<text class="sl" transform="translate(222,155.7) scale(.88,1)">ต.บ้านต๋อม อ.เมือง</text>
<text class="sl" transform="translate(76,187.7) scale(.88,1)">ต.ช้างเผือก อ.เมือง</text>
<text class="sl" transform="translate(183,193.7) scale(.88,1)">ต.สบป้าด อ.แม่เมาะ</text>
<text class="sl" transform="translate(268,205.7) scale(.88,1)">ต.ในเวียง อ.เมือง</text>
<text class="sl" transform="translate(40,216.7) scale(.88,1)">ต.เวียงใต้ อ.ปาย</text>
<text class="sl" transform="translate(76,225.7) scale(.88,1)">ต.ช่างเคิ่ง อ.แม่แจ่ม</text>
<text class="sl" transform="translate(115,216.7) scale(.88,1)">ต.บ้านกลาง อ.เมือง</text>
<text class="sl" transform="translate(153,239.7) scale(.88,1)">ต.บ้านดง อ.แม่เมาะ</text>
<text class="sl" transform="translate(219,232.7) scale(.88,1)">ต.นาจักร อ.เมือง</text>
<text class="sl" transform="translate(74,262.7) scale(.88,1)">ต.หางดง อ.ฮอด</text>
<text class="sl" transform="translate(124,272.7) scale(.88,1)">ต.ลี้ อ.ลี้</text>
<text class="sl" transform="translate(141.5,282.7) scale(.88,1)">ต.แม่เมาะ อ.แม่เมาะ</text>
<text class="sl" transform="translate(270,265.7) scale(.88,1)">ต.ท่าอิฐ อ.เมือง</text>
<text class="sl" transform="translate(98,336.7) scale(.88,1)">ต.แม่ปะ อ.แม่สอด</text>
<text class="sl" transform="translate(192,316.7) scale(.88,1)">ต.ธานี อ.เมือง</text>
<text class="sl" transform="translate(240,340.7) scale(.88,1)">ต.ในเมือง อ.เมือง</text>
<text class="sl" transform="translate(175,395.7) scale(.88,1)">ต.ในเมือง อ.เมือง</text>
<text class="sl" transform="translate(240,395.7) scale(.88,1)">ต.ในเมือง อ.เมือง</text>
<text class="sl" transform="translate(300,418.7) scale(.88,1)">ต.ในเมือง อ.เมือง</text>
<text class="sl" transform="translate(235,443.7) scale(.88,1)">ต.ปากน้ำโพ อ.เมือง</text>
<text class="sl" transform="translate(185,449.7) scale(.88,1)">ต.อุทัยใหม่ อ.เมือง</text>
<text class="sv" x="213" y="91.3" text-anchor="middle">216.4</text>
<text class="sv" x="255.3" y="102.8" text-anchor="middle">216.4</text>
<text class="sv" x="163.2" y="123.3" text-anchor="middle">96.6</text>
<text class="sv" x="202" y="144.3" text-anchor="middle">178.2</text>
<text class="sv" x="95" y="143.3" text-anchor="middle">198.9</text>
<text class="sv" x="309.7" y="166.5" text-anchor="middle">133.3</text>
<text class="sv" x="62.7" y="196.8" text-anchor="middle">138.2</text>
<text class="sv" x="166.3" y="189.3" text-anchor="middle">102.1</text>
<text class="sv" x="202.3" y="183.5" text-anchor="middle">126.6</text>
<text class="sv" x="250.2" y="185.3" text-anchor="middle">175.1</text>
<text class="sv" x="104.2" y="216.60000000000002" text-anchor="middle">140.3</text>
<text class="sv" x="215" y="223.8" text-anchor="middle">121.6</text>
<text class="sv" x="293.2" y="234.5" text-anchor="middle">144.3</text>
<text class="sv" x="64" y="246.10000000000002" text-anchor="middle">326.3</text>
<text class="sv" x="103.9" y="255.10000000000002" text-anchor="middle">237.6</text>
<text class="sv" x="143.3" y="245.8" text-anchor="middle">130.7</text>
<text class="sv" x="183" y="268.5" text-anchor="middle">121.8</text>
<text class="sv" x="243.7" y="262.2" text-anchor="middle">121.8</text>
<text class="sv" x="98.2" y="292.3" text-anchor="middle">141.3</text>
<text class="sv" x="137" y="302.2" text-anchor="middle">169.9</text>
<text class="sv" x="171" y="311.3" text-anchor="middle">122.1</text>
<text class="sv" x="293.3" y="294.0" text-anchor="middle">82.0</text>
<text class="sv" x="125" y="365.3" text-anchor="middle">87.9</text>
<text class="sv" x="213.2" y="345.3" text-anchor="middle">83.9</text>
<text class="sv" x="265.7" y="369.6" text-anchor="middle">90.8</text>
<text class="sv" x="200.7" y="423.8" text-anchor="middle">84.8</text>
<text class="sv so" x="265.7" y="423.8" text-anchor="middle">68.6</text>
<text class="sv so" x="325.7" y="447.1" text-anchor="middle">53.4</text>
<text class="sv" x="264.5" y="472.1" text-anchor="middle">79.6</text>
<text class="sv so" x="212" y="478.3" text-anchor="middle">67.9</text>
</svg>
<div id="legend">
<div class="lg" style="top:8.6px;background:#3dbdf6"></div><div class="lt" style="top:9.500px"><b>คุณภาพอากาศดีมาก</b>0 - 15.0 มคก./ลบ.ม.</div>
<div class="lg" style="top:34.8px;background:#8cc44d"></div><div class="lt" style="top:35.700px"><b>คุณภาพอากาศดี</b>15.1 - 25.0 มคก./ลบ.ม.</div>
<div class="lg" style="top:60.6px;background:#fdf61c"></div><div class="lt" style="top:61.500px"><b>คุณภาพอากาศปานกลาง</b>25.1 - 37.5 มคก./ลบ.ม.</div>
<div class="lg" style="top:86.8px;background:#f7971e"></div><div class="lt" style="top:87.700px"><b>เริ่มมีผลกระทบต่อสุขภาพ</b>37.6 - 75.0 มคก./ลบ.ม.</div>
<div class="lg" style="top:113.1px;background:#ee3a40"></div><div class="lt" style="top:114px"><b>มีผลกระทบต่อสุขภาพ</b>มากกว่า 75 มคก./ลบ.ม.</div>
</div>
<div class="hd" style="left:574px">07:00 น.</div>
<div class="hd" style="left:634.5px">12:00 น.</div>
<div class="hd" style="left:695.5px">17:00 น.</div>
<div class="row" style="top:78.00px"><div class="nm"><span>ต.เวียง อ.เมือง, เชียงราย</span></div><div class="v v1 r">169.0</div><i class="t u a1"></i><div class="v v2 r">178.2</div><i class="t u a2"></i></div>
<div class="row" style="top:97.85px"><div class="nm"><span>ต.เวียงพางคำ อ.แม่สาย, เชียงราย</span></div><div class="v v1 r">216.9</div><i class="t d a1"></i><div class="v v2 r">216.4</div><i class="t d a2"></i></div>
<div class="row" style="top:117.69px"><div class="nm"><span>ต.เวียง อ.เชียงของ, เชียงราย</span></div><div class="v v1 r">203.0</div><i class="t u a1"></i><div class="v v2 r">216.4</div><i class="t u a2"></i></div>
<div class="row" style="top:137.54px"><div class="nm"><span>ต.ช้างเผือก อ.เมือง, เชียงใหม่</span></div><div class="v v1 r">133.7</div><i class="t u a1"></i><div class="v v2 r">140.3</div><i class="t u a2"></i></div>
<div class="row" style="top:157.39px"><div class="nm"><span>ต.ศรีภูมิ อ.เมือง, เชียงใหม่</span></div><div class="v v1 r">93.8</div><i class="t u a1"></i><div class="v v2 r">102.1</div><i class="t u a2"></i></div>
<div class="row" style="top:177.24px"><div class="nm"><span>ต.สุเทพ อ.เมือง, จ.เชียงใหม่</span></div><div class="v v1 r">96.7</div><i class="t u a1"></i><div class="v v2 r">96.6</div><i class="t d a2"></i></div>
<div class="row" style="top:197.08px"><div class="nm"><span>ต.ช่างเคิ่ง อ.แม่แจ่ม, เชียงใหม่</span></div><div class="v v1 r">215.1</div><i class="t u a1"></i><div class="v v2 r">237.6</div><i class="t u a2"></i></div>
<div class="row" style="top:216.93px"><div class="nm"><span>ต.เมืองนะ อ.เชียงดาว, เชียงใหม่</span></div><div class="v v1 r">345.3</div><i class="t u a1"></i><div class="v v2 n">N/A</div></div>
<div class="row" style="top:236.78px"><div class="nm"><span>ต.หางดง อ.ฮอด, จ.เชียงใหม่</span></div><div class="v v1 r">131.6</div><i class="t u a1"></i><div class="v v2 r">141.3</div><i class="t u a2"></i></div>
<div class="row" style="top:256.62px"><div class="nm"><span>ต.จองคำ อ.เมือง, แม่ฮ่องสอน</span></div><div class="v v1 r">136.1</div><i class="t d a1"></i><div class="v v2 r">138.2</div><i class="t u a2"></i></div>
<div class="row" style="top:276.47px"><div class="nm"><span>ต.เวียงใต้ อ.ปาย, แม่ฮ่องสอน</span></div><div class="v v1 r">317.8</div><i class="t u a1"></i><div class="v v2 r">326.3</div><i class="t u a2"></i></div>
<div class="row" style="top:296.32px"><div class="nm"><span>ต.แม่สะเรียง อ.แม่สะเรียง, แม่ฮ่องสอน</span></div><div class="v v1 r">197.6</div><i class="t u a1"></i><div class="v v2 r">198.9</div><i class="t u a2"></i></div>
<div class="row" style="top:316.16px"><div class="nm"><span>ต.พระบาท อ.เมือง, ลำปาง</span></div><div class="v v1 r">121.4</div><i class="t u a1"></i><div class="v v2 r">126.6</div><i class="t u a2"></i></div>
<div class="row" style="top:336.01px"><div class="nm"><span>ต.สบป้าด อ.แม่เมาะ, ลำปาง</span></div><div class="v v1 r">116.8</div><i class="t u a1"></i><div class="v v2 r">121.6</div><i class="t u a2"></i></div>
<div class="row" style="top:355.86px"><div class="nm"><span>ต.บ้านดง อ.แม่เมาะ, ลำปาง</span></div><div class="v v1 r">116.7</div><i class="t u a1"></i><div class="v v2 r">121.8</div><i class="t u a2"></i></div>
<div class="row" style="top:375.71px"><div class="nm"><span>ต.แม่เมาะ อ.แม่เมาะ, ลำปาง</span></div><div class="v v1 r">117.2</div><i class="t u a1"></i><div class="v v2 r">122.1</div><i class="t u a2"></i></div>
<div class="row" style="top:395.55px"><div class="nm"><span>ต.บ้านกลาง อ.เมือง, ลำพูน</span></div><div class="v v1 r">128.3</div><i class="t u a1"></i><div class="v v2 r">130.7</div><i class="t u a2"></i></div>
<div class="row" style="top:415.40px"><div class="nm"><span>ต.ลี้ อ.ลี้, ลำพูน</span></div><div class="v v1 r">166.1</div><i class="t u a1"></i><div class="v v2 r">169.9</div><i class="t u a2"></i></div>
<div class="row" style="top:435.25px"><div class="nm"><span>ต.ในเวียง อ.เมือง, น่าน</span></div><div class="v v1 r">140.2</div><i class="t u a1"></i><div class="v v2 r">144.3</div><i class="t u a2"></i></div>
<div class="row" style="top:455.09px"><div class="nm"><span>ต.ห้วยโก๋น อ.เฉลิมพระเกียรติ, น่าน</span></div><div class="v v1 r">128.2</div><i class="t u a1"></i><div class="v v2 r">133.3</div><i class="t u a2"></i></div>
<div class="row" style="top:474.94px"><div class="nm"><span>ต.นาจักร อ.เมือง, แพร่</span></div><div class="v v1 r">117.2</div><i class="t u a1"></i><div class="v v2 r">121.8</div><i class="t u a2"></i></div>
<div class="row" style="top:494.79px"><div class="nm"><span>ต.บ้านต๋อม อ.เมือง, พะเยา</span></div><div class="v v1 r">170.6</div><i class="t u a1"></i><div class="v v2 r">175.1</div><i class="t u a2"></i></div>
<div class="row" style="top:514.63px"><div class="nm"><span>ต.แม่ปะ อ.แม่สอด, ตาก</span></div><div class="v v1 r">85.8</div><i class="t u a1"></i><div class="v v2 r">87.9</div><i class="t u a2"></i></div>
<div class="row" style="top:534.48px"><div class="nm"><span>ต.ท่าอิฐ อ.เมือง, อุตรดิตถ์</span></div><div class="v v1 r">80.1</div><i class="t u a1"></i><div class="v v2 r">82.0</div><i class="t u a2"></i></div>
<div class="row" style="top:554.33px"><div class="nm"><span>ต.ธานี อ.เมือง, สุโขทัย</span></div><div class="v v1 r">84.1</div><i class="t u a1"></i><div class="v v2 r">83.9</div><i class="t d a2"></i></div>
<div class="row" style="top:574.17px"><div class="nm"><span>ต.ในเมือง อ.เมือง, พิษณุโลก</span></div><div class="v v1 r">90.2</div><i class="t u a1"></i><div class="v v2 r">90.8</div><i class="t u a2"></i></div>
<div class="row" style="top:594.02px"><div class="nm"><span>ต.ในเมือง อ.เมือง, กำแพงเพชร</span></div><div class="v v1 r">82.6</div><i class="t u a1"></i><div class="v v2 r">84.8</div><i class="t u a2"></i></div>
<div class="row" style="top:613.87px"><div class="nm"><span>ต.ในเมือง อ.เมือง, พิจิตร</span></div><div class="v v1 o">67.7</div><i class="t u a1"></i><div class="v v2 o">68.6</div><i class="t u a2"></i></div>
<div class="row" style="top:633.72px"><div class="nm"><span>ต.ในเมือง อ.เมือง, เพชรบูรณ์</span></div><div class="v v1 o">52.0</div><i class="t u a1"></i><div class="v v2 o">53.4</div><i class="t u a2"></i></div>
<div class="row" style="top:653.56px"><div class="nm"><span>ต.ปากน้ำโพ อ.เมือง, นครสวรรค์</span></div><div class="v v1 r">75.9</div><i class="t u a1"></i><div class="v v2 r">79.6</div><i class="t u a2"></i></div>
<div class="row" style="top:673.41px"><div class="nm"><span>ต.อุทัยใหม่ อ.เมือง, อุทัยธานี</span></div><div class="v v1 o">66.9</div><i class="t u a1"></i><div class="v v2 o">67.9</div><i class="t u a2"></i></div>
<div id="notes">
<div style="top:0;left:3.2px">หมายเหตุ</div>
<div style="top:14.5px;transform:scaleX(.948)">1.&nbsp; เป็นข้อมูลที่ผ่านการตรวจสอบในระดับเบื้องต้น&nbsp; ซึ่งรายงานผ่านเว็บไซต์</div>
<div style="top:26.2px">air4thai.pcd.go.th&nbsp; ณ&nbsp; เวลา&nbsp; 12:00&nbsp; น.&nbsp; ของวันดังกล่าว</div>
<div style="top:37.9px;letter-spacing:.15px">2.&nbsp; N/A&nbsp; ไม่มีข้อมูล</div>
</div>
</body></html>
